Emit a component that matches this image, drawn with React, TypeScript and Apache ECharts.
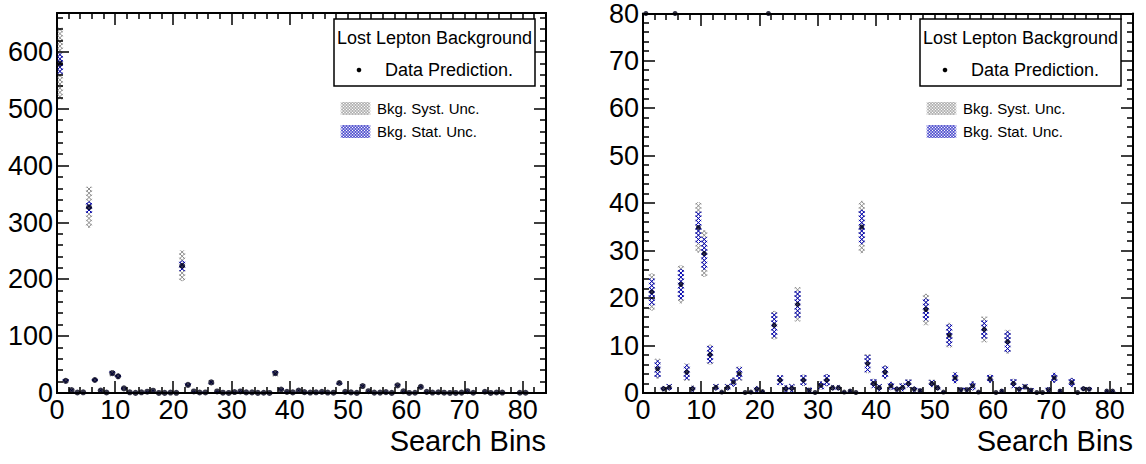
import React, { useEffect, useRef } from "react";
import * as echarts from "echarts";

// Search bin index 0..83 (bin centre = index + 0.5)
const binIndex: number[] = Array.from({ length: 84 }, (_, i) => i);

const prediction: number[] = [
  580, 21.3, 5.1, 0.9, 1.2, 327, 22.9, 4.4, 0.9, 34.9,
  29.4, 8.1, 1.2, 0.2, 1.2, 2.3, 4.1, 0.1, 0.2, 0.8,
  0.3, 224, 14.3, 2.7, 0.9, 1.0, 18.7, 2.7, 0.6, 0.1,
  1.6, 2.7, 1.1, 1.1, 0.2, 0.4, 0.1, 35.0, 6.2, 2.0,
  1.1, 4.4, 1.5, 0.8, 1.2, 2.0, 0.8, 0.5, 17.6, 2.0,
  1.1, 0.2, 12.2, 3.2, 0.7, 0.7, 1.5, 0.2, 13.4, 3.0,
  0.1, 0.4, 10.8, 2.0, 0.8, 1.3, 0.6, 0.1, 0.1, 0.7,
  3.2, 0.4, 0, 2.2, 0.1, 0.9, 0.8, 0, 0, 0.4,
  0.4, 0, 0, 0,
];

const statErr: number[] = [
  18, 2.8, 1.8, 0.5, 0.6, 10, 3.2, 1.6, 0.6, 3.3,
  3.4, 1.8, 0.6, 0.2, 0.6, 0.9, 1.3, 0.1, 0.2, 0.6,
  0.3, 9, 2.6, 1.0, 0.7, 0.8, 2.8, 1.1, 0.5, 0.1,
  0.8, 1.2, 0.5, 0.5, 0.2, 0.3, 0.1, 3.6, 1.8, 0.9,
  0.7, 1.3, 0.8, 0.5, 0.8, 0.8, 0.5, 0.4, 2.3, 0.7,
  0.5, 0.2, 2.3, 1.1, 0.4, 0.4, 0.9, 0.2, 1.9, 0.8,
  0.1, 0.4, 2.2, 0.9, 0.5, 0.5, 0.4, 0.1, 0.1, 0.5,
  1.0, 0.4, 0, 0.9, 0.1, 0.4, 0.4, 0, 0, 0.3,
  0.3, 0, 0, 0,
];

const systErr: number[] = [
  63, 3.9, 2.1, 0.6, 0.7, 36, 4.0, 1.8, 0.7, 5.3,
  4.9, 2.1, 0.7, 0.2, 0.7, 1.0, 1.5, 0.1, 0.2, 0.7,
  0.3, 27, 3.0, 1.1, 0.8, 0.9, 3.6, 1.2, 0.5, 0.1,
  0.9, 1.3, 0.6, 0.6, 0.2, 0.4, 0.1, 5.5, 2.0, 1.0,
  0.8, 1.5, 0.9, 0.6, 0.9, 0.9, 0.6, 0.4, 3.3, 0.8,
  0.6, 0.2, 2.6, 1.2, 0.5, 0.5, 1.0, 0.2, 2.7, 0.9,
  0.1, 0.4, 2.5, 1.0, 0.5, 0.6, 0.4, 0.1, 0.1, 0.5,
  1.1, 0.4, 0, 1.0, 0.1, 0.5, 0.5, 0, 0, 0.3,
  0.3, 0, 0, 0,
];

const xAxisTitle = "Search Bins";
const legendTitle = "Lost Lepton Background";
const legendData = "Data Prediction.";
const legendSyst = "Bkg. Syst. Unc.";
const legendStat = "Bkg. Stat. Unc.";

const panelYMax: number[] = [669, 80];
const panelYMajor: number[] = [100, 10];
const panelYMinor: number[] = [20, 2];
const xMax = 84;
const xMajor = 10;
const xMinor = 2;

const FONT = "Liberation Sans, Arial, Helvetica, sans-serif";
const GRAY = "#8a8a8a";
const BLUE = "#0000b8";

const PANELS = [
  { left: 57, width: 489, dot: 6 },
  { left: 643, width: 490, dot: 5 },
];
const TOP = 13;
const HEIGHT = 380;

function hatch(x0: number, y0: number, w: number, h: number, d: number, xc: number) {
  const segs: number[][] = [];
  const x1 = x0 + w;
  const y1 = y0 + h;
  const kA0 = Math.ceil((xc - (x1 - y0)) / d);
  const kA1 = Math.floor((xc - (x0 - y1)) / d);
  for (let k = kA0; k <= kA1; k++) {
    const c = xc - k * d;
    const xa = Math.max(x0, y0 + c);
    const xb = Math.min(x1, y1 + c);
    if (xb - xa > 0.05) segs.push([xa, xa - c, xb, xb - c]);
  }
  const kB0 = Math.ceil((x0 + y0 - xc) / d);
  const kB1 = Math.floor((x1 + y1 - xc) / d);
  for (let k = kB0; k <= kB1; k++) {
    const c = xc + k * d;
    const xa = Math.max(x0, c - y1);
    const xb = Math.min(x1, c - y0);
    if (xb - xa > 0.05) segs.push([xa, c - xa, xb, c - xb]);
  }
  return segs;
}

function hatchGraphics(x: number, y: number, w: number, h: number, d: number, color: string, lw: number) {
  return hatch(x, y, w, h, d, x + w / 2).map((s) => ({
    type: "line",
    silent: true,
    z: 101,
    shape: { x1: s[0], y1: s[1], x2: s[2], y2: s[3] },
    style: { stroke: color, lineWidth: lw },
  }));
}

function tickValues(max: number, step: number) {
  const vals: number[] = [];
  for (let v = 0; v <= max + 1e-9; v += step) vals.push(v);
  return vals;
}

function isMultiple(v: number, m: number) {
  return Math.abs(v / m - Math.round(v / m)) < 1e-9;
}

function buildOption() {
  const grids: any[] = [];
  const xAxes: any[] = [];
  const yAxes: any[] = [];
  const series: any[] = [];
  const lineStyle = { color: "#000", width: 2 };

  PANELS.forEach((p, g) => {
    grids.push({ left: p.left, top: TOP, width: p.width, height: HEIGHT, containLabel: false });

    const xBase = { type: "value", gridIndex: g, min: 0, max: xMax, interval: xMajor, splitLine: { show: false } };
    xAxes.push({
      ...xBase, position: "bottom",
      axisLine: { show: true, onZero: false, lineStyle: { ...lineStyle } },
      axisTick: { show: false },
      axisLabel: { show: true, fontSize: 27, fontFamily: FONT, color: "#000", margin: 3, showMaxLabel: false },
    });
    xAxes.push({
      ...xBase, position: "top",
      axisLine: { show: true, onZero: false, lineStyle: { ...lineStyle } },
      axisTick: { show: false },
      axisLabel: { show: false },
    });

    const yBase = {
      type: "value", gridIndex: g, min: 0, max: panelYMax[g], interval: panelYMajor[g],
      splitLine: { show: false },
    };
    yAxes.push({
      ...yBase, position: "left",
      axisLine: { show: true, onZero: false, lineStyle: { ...lineStyle } },
      axisTick: { show: false },
      axisLabel: {
        show: true, fontSize: 27, fontFamily: FONT, color: "#000", margin: 4,
        formatter: (v: number) => (isMultiple(v, panelYMajor[g]) ? String(v) : ""),
      },
    });
    yAxes.push({
      ...yBase, position: "right",
      axisLine: { show: true, onZero: false, lineStyle: { ...lineStyle } },
      axisTick: { show: false },
      axisLabel: { show: false },
    });

    const axisIdx = g * 2;
    const rows = binIndex.map((i) => [i + 0.5, prediction[i], statErr[i], systErr[i]]);
    series.push({
      type: "custom",
      xAxisIndex: axisIdx,
      yAxisIndex: axisIdx,
      data: rows,
      clip: false,
      silent: true,
      z: 6,
      renderItem: (params: any, api: any) => {
        const x = api.value(0);
        const v = api.value(1);
        const st = api.value(2);
        const sy = api.value(3);
        const cs = params.coordSys;
        const children: any[] = [];
        const w = 5.5;
        const addBox = (lo: number, hi: number, color: string) => {
          const pLo = api.coord([x, lo]);
          const pHi = api.coord([x, hi]);
          const top = Math.max(pHi[1], cs.y);
          const bot = Math.min(pLo[1], cs.y + cs.height);
          const left = Math.max(pLo[0] - w / 2, cs.x);
          const right = Math.min(pLo[0] + w / 2, cs.x + cs.width);
          if (bot - top < 0.4 || right - left < 0.5) return;
          hatch(left, top, right - left, bot - top, 4.2, pLo[0]).forEach((s) =>
            children.push({
              type: "line",
              shape: { x1: s[0], y1: s[1], x2: s[2], y2: s[3] },
              style: { stroke: color, lineWidth: 1 },
            })
          );
        };
        if (v > 0) {
          addBox(v - sy, v + sy, GRAY);
          addBox(v - st, v + st, BLUE);
        }
        return { type: "group", children };
      },
    });

    series.push({
      type: "scatter",
      xAxisIndex: axisIdx,
      yAxisIndex: axisIdx,
      symbol: "circle",
      symbolSize: p.dot,
      clip: false,
      silent: true,
      z: 7,
      itemStyle: { color: "#000018" },
      data: binIndex
        .filter((i) => prediction[i] > 0)
        .map((i) => [i + 0.5, Math.min(prediction[i], panelYMax[g])]),
    });
  });

  return {
    animation: false,
    backgroundColor: "#fff",
    grid: grids,
    xAxis: xAxes,
    yAxis: yAxes,
    series,
  };
}

function buildGraphics(chart: any) {
  const graphic: any[] = [];
  PANELS.forEach((p, g) => {
    const axisIdx = g * 2;
    const toX = (v: number) => Number(chart.convertToPixel({ xAxisIndex: axisIdx }, v));
    const toY = (v: number) => Number(chart.convertToPixel({ yAxisIndex: axisIdx }, v));
    const left = Math.round(toX(0));
    const right = Math.round(toX(xMax));
    const bottom = Math.round(toY(0));
    const top = Math.round(toY(panelYMax[g]));

    // tick combs drawn as polylines that retrace along the frame
    const bottomPts: number[][] = [];
    const topPts: number[][] = [];
    tickValues(xMax, xMinor).forEach((v) => {
      const len = isMultiple(v, xMajor) ? 12 : 6;
      const x = Math.round(toX(v));
      bottomPts.push([x, bottom], [x, bottom - len], [x, bottom]);
      topPts.push([x, top], [x, top + len], [x, top]);
    });
    const leftPts: number[][] = [];
    const rightPts: number[][] = [];
    tickValues(panelYMax[g], panelYMinor[g]).forEach((v) => {
      const len = isMultiple(v, panelYMajor[g]) ? 12 : 6;
      const y = Math.round(toY(v));
      leftPts.push([left, y], [left + len, y], [left, y]);
      rightPts.push([right, y], [right - len, y], [right, y]);
    });
    [bottomPts, topPts, leftPts, rightPts].forEach((pts) => {
      graphic.push({
        type: "polyline",
        z: 90,
        shape: { points: pts },
        style: { stroke: "#000", lineWidth: 1.5, fill: "none" },
      });
    });

    // legend
    const bx = 334 + (p.left - 57);
    graphic.push({
      type: "rect", z: 100,
      shape: { x: bx, y: 19, width: 201, height: 67 },
      style: { fill: "#fff", stroke: "#000", lineWidth: 1.5 },
    });
    graphic.push({
      type: "text", z: 101, x: bx + 100.5, y: 38,
      style: { text: legendTitle, font: `18px ${FONT}`, fill: "#000", align: "center", verticalAlign: "middle" },
    });
    graphic.push({
      type: "circle", z: 101,
      shape: { cx: bx + 25, cy: 70, r: 2.3 },
      style: { fill: "#000" },
    });
    graphic.push({
      type: "text", z: 101, x: bx + 51, y: 70,
      style: { text: legendData, font: `18px ${FONT}`, fill: "#000", align: "left", verticalAlign: "middle" },
    });
    const sx = bx + 7;
    hatchGraphics(sx, 102, 29, 13, 3, GRAY, 0.8).forEach((e) => graphic.push(e));
    hatchGraphics(sx, 125, 29, 13, 3, BLUE, 0.8).forEach((e) => graphic.push(e));
    graphic.push({
      type: "text", z: 101, x: sx + 36, y: 108.5,
      style: { text: legendSyst, font: `15px ${FONT}`, fill: "#000", align: "left", verticalAlign: "middle" },
    });
    graphic.push({
      type: "text", z: 101, x: sx + 36, y: 131.5,
      style: { text: legendStat, font: `15px ${FONT}`, fill: "#000", align: "left", verticalAlign: "middle" },
    });
    graphic.push({
      type: "text", z: 101, x: toX(xMax), y: 441,
      style: { text: xAxisTitle, font: `29px ${FONT}`, fill: "#000", align: "right", verticalAlign: "middle" },
    });
  });
  return graphic;
}

export default function App() {
  const ref = useRef<HTMLDivElement>(null);
  useEffect(() => {
    if (!ref.current) return;
    const chart = echarts.init(ref.current, undefined, { renderer: "svg" });
    chart.setOption(buildOption() as any);
    chart.setOption({ graphic: buildGraphics(chart) } as any);
    return () => chart.dispose();
  }, []);
  return (
    <div
      ref={ref}
      style={{ position: "fixed", left: 0, top: 0, width: 1146, height: 464, background: "#fff" }}
    />
  );
}
